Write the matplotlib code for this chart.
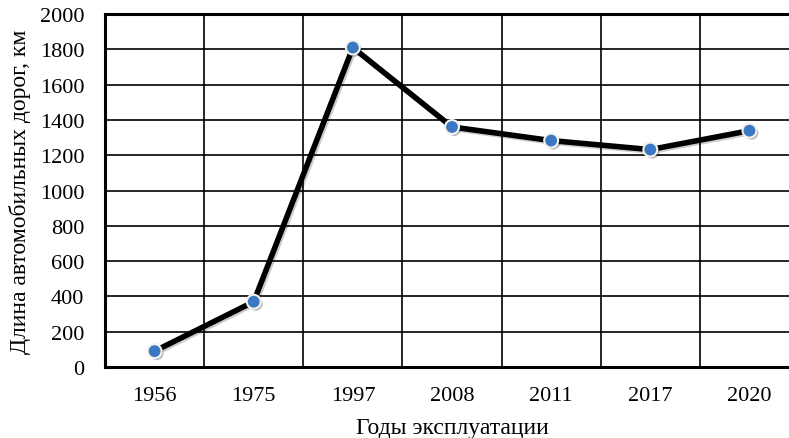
import matplotlib.pyplot as plt
import matplotlib.patheffects as pe
import numpy as np

years = ['1956', '1975', '1997', '2008', '2011', '2017', '2020']
road_length = [90, 370, 1810, 1360, 1283, 1232, 1339]
y_ticks = list(range(0, 2001, 200))

plt.rcParams['font.family'] = ['Liberation Serif', 'DejaVu Serif']
plt.rcParams['font.size'] = 16

fig = plt.figure(figsize=(7.89, 4.39), dpi=100)
ax = fig.add_axes([0.1331, 0.1617, 0.8796, 0.8041])

x = np.arange(len(years))
shadow = [pe.SimplePatchShadow(offset=(1.5, -1.5), alpha=0.3), pe.Normal()]
ax.plot(x, road_length, color='black', linewidth=4, solid_capstyle='round',
        zorder=3, path_effects=[pe.SimpleLineShadow(offset=(1.2, -1.2), alpha=0.2), pe.Normal()])
ax.plot(x, road_length, linestyle='none', marker='o', markersize=10,
        markerfacecolor='#3a78c4', markeredgecolor='#f2f2ea', markeredgewidth=1.5,
        zorder=4, path_effects=shadow)

ax.set_xlim(-0.5, 6.5)
ax.set_ylim(0, 2000)
ax.set_xticks(x)
ax.set_xticklabels(years)
ax.set_xticks(np.arange(0.5, 6.5, 1), minor=True)
ax.set_yticks(y_ticks)
ax.tick_params(axis='both', which='both', length=0)
ax.tick_params(axis='x', pad=14)
ax.tick_params(axis='y', pad=15)

ax.grid(which='minor', axis='x', color='black', linewidth=1.2)
ax.grid(which='major', axis='y', color='black', linewidth=1.2)
ax.set_axisbelow(True)
for side in ['left', 'bottom', 'top']:
    ax.spines[side].set_linewidth(2.2)
ax.spines['right'].set_visible(False)

ax.set_xlabel('Годы эксплуатации', fontsize=17, labelpad=8)
ax.set_ylabel('Длина автомобильных дорог, км', fontsize=17, labelpad=6)

plt.savefig('out.png', dpi=100)
